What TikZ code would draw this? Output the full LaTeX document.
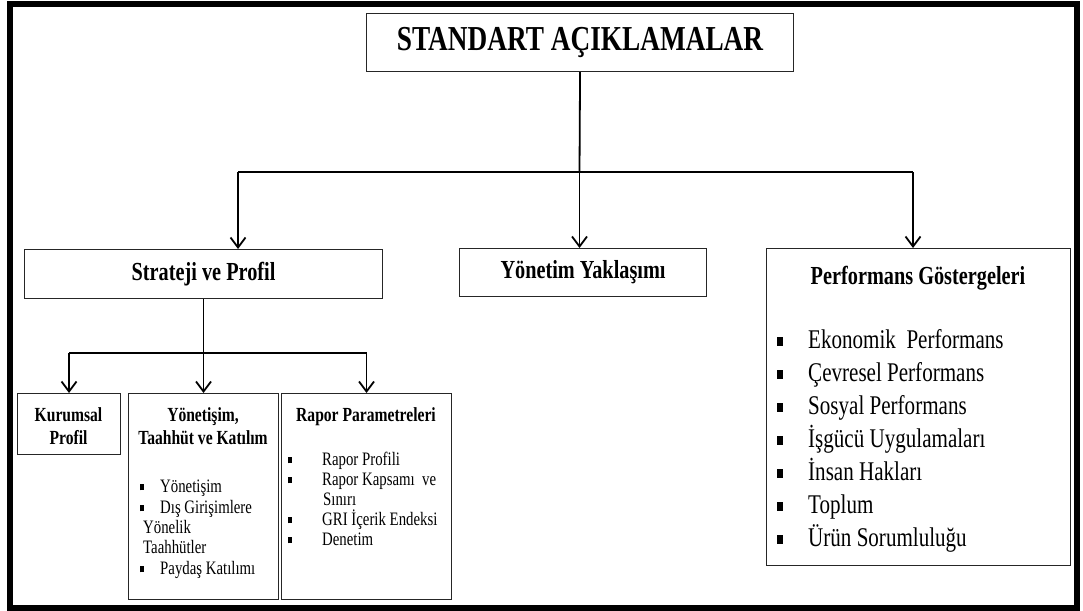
\documentclass[tikz,border=0pt]{standalone}
\usepackage{fontspec}
\setmainfont{Liberation Serif}[FakeStretch=0.78]
\usetikzlibrary{arrows.meta}
\newcommand\sqbul{\rule[0.08em]{0.21em}{0.34em}}
\newcommand\ftitle{\fontsize{35}{40}\selectfont}
\newcommand\fhead{\fontsize{26}{30}\selectfont}
\newcommand\fbig{\fontsize{27}{31}\selectfont}
\newcommand\fsubh{\fontsize{20}{23}\selectfont}
\newcommand\fsub{\fontsize{19}{21}\selectfont}
\begin{document}
\begin{tikzpicture}[x=1pt,y=-1pt,
  box/.style={draw=black!85, line width=1.1pt, inner sep=0pt, anchor=north west},
  conn/.style={line width=1.8pt},
  arr/.style={conn,-{Straight Barb[length=10pt,width=15pt]}},
  head/.style={font=\bfseries, inner sep=0pt, anchor=base},
  item/.style={inner sep=0pt, anchor=base west},
  bul/.style={inner sep=0pt, anchor=base},
]
\useasboundingbox (0,0) rectangle (1083,610);
% outer frame
\draw[line width=6pt] (10,4.5) rectangle (1076.5,607.5);

% boxes
\node[box, minimum width=427pt, minimum height=58pt, font=\ftitle\bfseries] (title) at (366,13) {STANDART AÇIKLAMALAR};
\node[box, minimum width=358pt, minimum height=49pt, font=\fhead\bfseries] (strat) at (24,249) {Strateji ve Profil};
\node[box, minimum width=247pt, minimum height=48pt, font=\fhead\bfseries] (yon) at (459,248) {Yönetim Yaklaşımı};
\node[box, minimum width=304pt, minimum height=317pt] (perf) at (766,248) {};
\node[box, minimum width=103pt, minimum height=61pt] (kur) at (17,393) {};
\node[box, minimum width=150pt, minimum height=206pt] (yonet) at (128,393) {};
\node[box, minimum width=170pt, minimum height=206pt] (rap) at (281,393) {};

% top level connectors
\coordinate (hub) at (579.5,172);
\coordinate (jl) at (238,172);
\coordinate (jr) at (913,172);
\draw[conn] (title.south) -- (hub);
\draw[conn] (jl) -- (jr);
\draw[arr] (jl) -- (jl |- strat.north);
\draw[arr] (hub) -- (hub |- yon.north);
\draw[arr] (jr) -- (jr |- perf.north);

% second level connectors
\coordinate (lvl) at (0,353);
\coordinate (shub) at (strat.south |- lvl);
\coordinate (sl) at (kur.north |- lvl);
\coordinate (sr) at (rap.north |- lvl);
\draw[conn] (strat.south) -- (shub);
\draw[conn] (sl) -- (sr);
\draw[arr] (sl) -- (kur.north);
\draw[arr] (shub) -- (shub |- yonet.north);
\draw[arr] (sr) -- (rap.north);

% Performans Gostergeleri
\node[head, font=\fhead\bfseries] (perfh) at (918,284) {Performans Göstergeleri};
\foreach \t [count=\i from 0] in {Ekonomik\ \ Performans, Çevresel Performans, Sosyal Performans, İşgücü Uygulamaları, İnsan Hakları, Toplum, Ürün Sorumluluğu}{
  \node[bul, font=\fbig] (pb\i) at (780,348+33*\i) {\sqbul};
  \node[item, font=\fbig] (pi\i) at (808,348+33*\i) {\t};
}

% Kurumsal Profil
\node[head, font=\fsubh\bfseries] (kur1) at (68.5,421.5) {Kurumsal};
\node[head, font=\fsubh\bfseries] (kur2) at (68.5,444.5) {Profil};

% Yonetisim, Taahhut ve Katilim
\node[head, font=\fsubh\bfseries] (yt1) at (203,421.5) {Yönetişim,};
\node[head, font=\fsubh\bfseries] (yt2) at (203,444.5) {Taahhüt ve Katılım};
\node[bul, font=\fsub] (yb1) at (142,492) {\sqbul};
\node[item, font=\fsub] (yi1) at (160,492) {Yönetişim};
\node[bul, font=\fsub] (yb2) at (142,513) {\sqbul};
\node[item, font=\fsub] (yi2) at (160,513) {Dış Girişimlere};
\node[item, font=\fsub] (yi3) at (143,533) {Yönelik};
\node[item, font=\fsub] (yi4) at (143,553) {Taahhütler};
\node[bul, font=\fsub] (yb5) at (142,574) {\sqbul};
\node[item, font=\fsub] (yi5) at (160,574) {Paydaş Katılımı};

% Rapor Parametreleri
\node[head, font=\fsubh\bfseries] (rh) at (366,421.5) {Rapor Parametreleri};
\node[bul, font=\fsub] (rb1) at (290,465) {\sqbul};
\node[item, font=\fsub] (ri1) at (322,465) {Rapor Profili};
\node[bul, font=\fsub] (rb2) at (290,485) {\sqbul};
\node[item, font=\fsub] (ri2) at (322,485) {Rapor Kapsamı\ \ ve};
\node[item, font=\fsub] (ri3) at (323,505) {Sınırı};
\node[bul, font=\fsub] (rb4) at (290,525) {\sqbul};
\node[item, font=\fsub] (ri4) at (322,525) {GRI İçerik Endeksi};
\node[bul, font=\fsub] (rb5) at (290,545) {\sqbul};
\node[item, font=\fsub] (ri5) at (322,545) {Denetim};
\end{tikzpicture}
\end{document}
